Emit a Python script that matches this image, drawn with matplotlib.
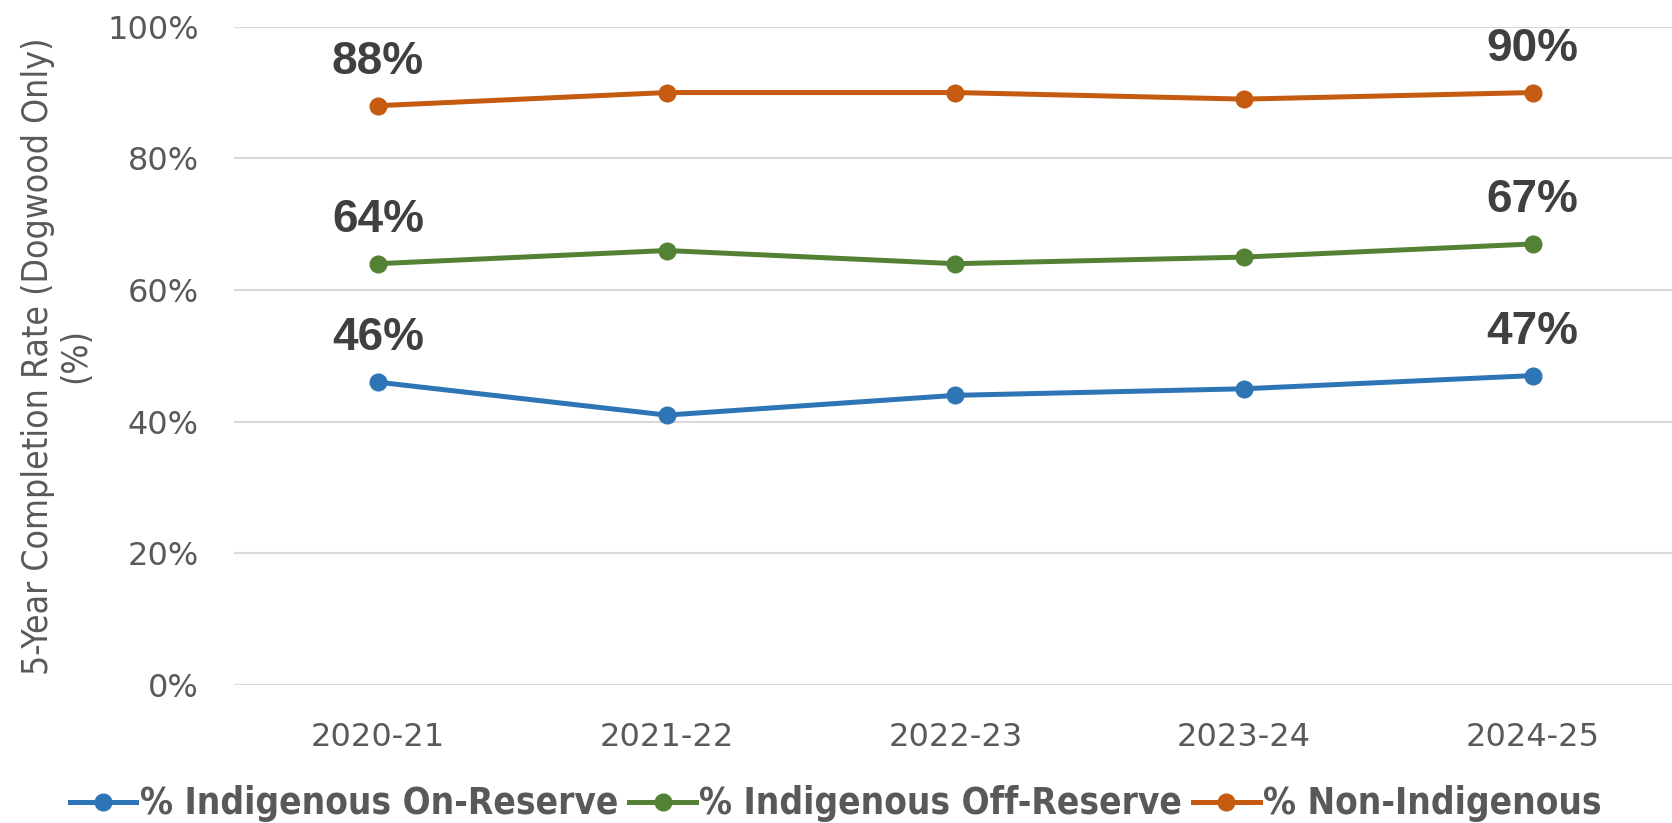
import numpy as np
import matplotlib.pyplot as plt

years = ['2020-21', '2021-22', '2022-23', '2023-24', '2024-25']
on_reserve = [46, 41, 44, 45, 47]
off_reserve = [64, 66, 64, 65, 67]
non_indigenous = [88, 90, 90, 89, 90]
series_names = ['% Indigenous On-Reserve', '% Indigenous Off-Reserve', '% Non-Indigenous']
colors = ['#2E75B6', '#548235', '#C55A11']

W, H = 1672, 823
fig = plt.figure(figsize=(W / 100, H / 100), dpi=100)
left, right, top, bottom = 233.6, 1677, 26.7, 685
ax = fig.add_axes([left / W, 1 - bottom / H, (right - left) / W, (bottom - top) / H])

x = np.arange(len(years))
for vals, name, c in zip([on_reserve, off_reserve, non_indigenous], series_names, colors):
    ax.plot(x, vals, color=c, lw=3.6, marker='o', ms=12, label=name, zorder=3)
    # Excel-style labels on the first and last points only
    for i in [0, len(vals) - 1]:
        ax.annotate(f'{vals[i]}%', (x[i], vals[i]), xytext=(0, 23), textcoords='offset points',
                    ha='center', va='baseline', fontsize=33, fontweight='bold',
                    color='#404040', family='Liberation Sans')

ax.set_xlim(-0.5, len(years) - 0.5)
ax.set_ylim(0, 100)
ax.set_yticks(np.arange(0, 101, 20))
ax.set_yticklabels([f'{v}%' for v in range(0, 101, 20)])
ax.set_xticks(x)
ax.set_xticklabels(years)
ax.tick_params(length=0, labelsize=23, labelcolor='#595959')
ax.tick_params(axis='y', pad=25)
ax.tick_params(axis='x', pad=27)
for lab in ax.get_xticklabels() + ax.get_yticklabels():
    lab.set_family('DejaVu Sans')
ax.grid(axis='y', color='#D9D9D9', lw=1.5)
ax.set_axisbelow(True)
for s in ax.spines.values():
    s.set_visible(False)

fig.text(57 / W, 1 - 356 / H, '5-Year Completion Rate (Dogwood Only)\n(%)', rotation=90,
         ha='center', va='center', multialignment='center', fontsize=25.5,
         color='#595959', family='DejaVu Sans', stretch='condensed', linespacing=1.12)

leg = fig.legend(loc='center', bbox_to_anchor=(0.5, 1 - 804 / H), ncol=3, frameon=False,
                 handlelength=1.8, handletextpad=0.1, columnspacing=0.3,
                 prop={'family': 'DejaVu Sans', 'stretch': 'condensed', 'weight': 'bold', 'size': 26.5})
for t in leg.get_texts():
    t.set_color('#595959')

fig.savefig('out.png', dpi=100)
